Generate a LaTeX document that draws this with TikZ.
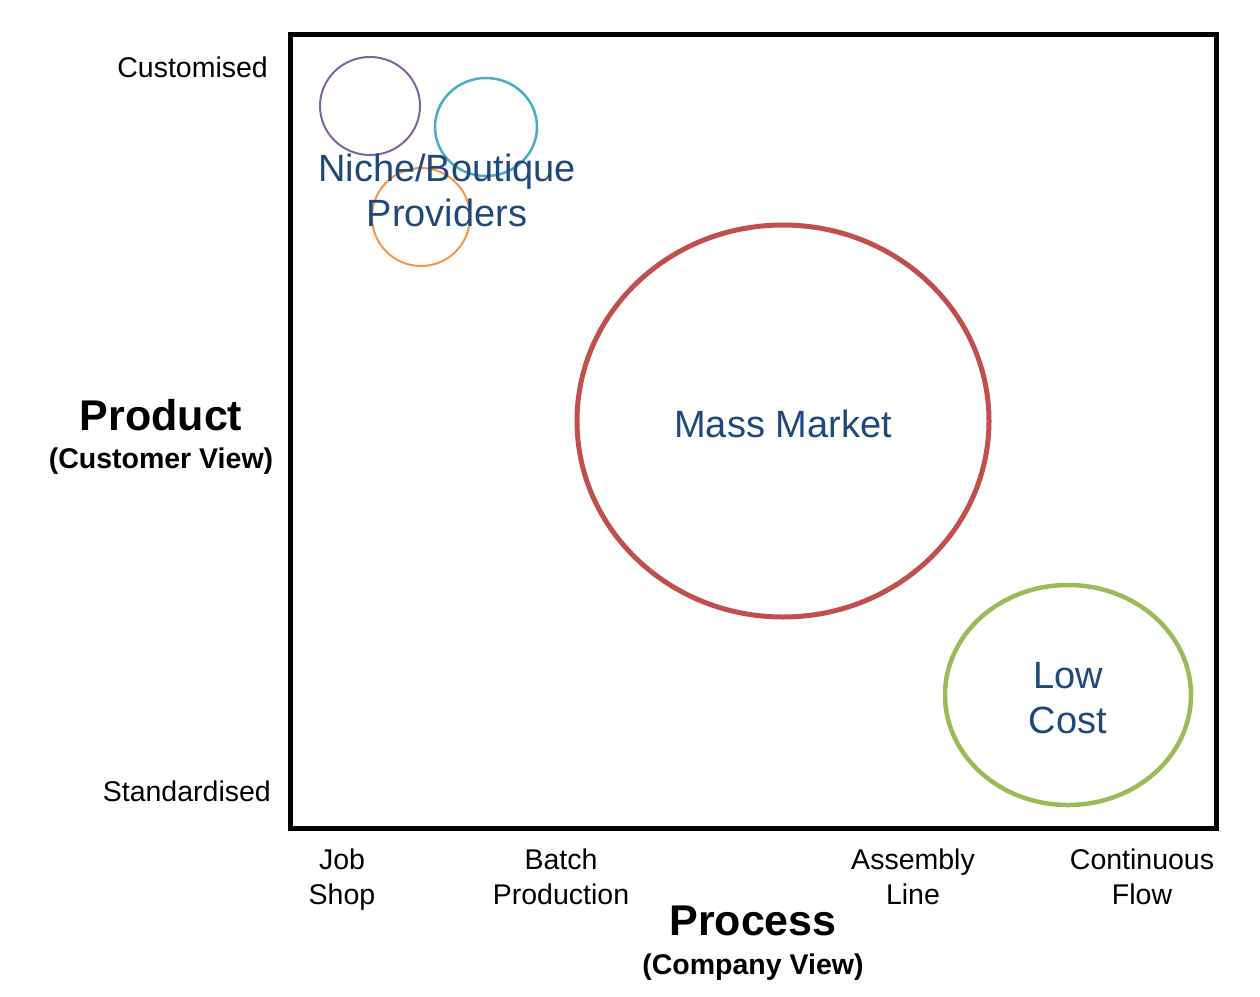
\documentclass[tikz,border=0pt]{standalone}
\usepackage{fontspec}
\setmainfont{Liberation Sans}
\usetikzlibrary{positioning, calc}
\definecolor{txtblue}{HTML}{1F497D}
\definecolor{cpurple}{HTML}{8064A2}
\definecolor{ccyan}{HTML}{4BACC6}
\definecolor{corange}{HTML}{F79646}
\definecolor{cred}{HTML}{C0504D}
\definecolor{cgreen}{HTML}{9BBB59}
\begin{document}
\begin{tikzpicture}[x=1pt, y=-1pt,
    bubble/.style={text=txtblue, align=center, inner sep=0pt, font=\fontsize{38}{45}\selectfont},
    axislbl/.style={align=center, inner sep=0pt, font=\fontsize{28.5}{35}\selectfont},
    bigttl/.style={inner sep=0pt, font=\bfseries\fontsize{43}{50}\selectfont},
    subttl/.style={inner sep=0pt, font=\bfseries\fontsize{28.5}{34}\selectfont}]
      \useasboundingbox (0,0) rectangle (1260,996);
      % frame
      \draw[line width=5pt] (290,34) rectangle (1216,828);
      % niche circles
      \draw[cpurple, line width=2pt] (370,106) ellipse (50 and 49);
      \draw[ccyan, line width=2.5pt] (486,127) ellipse (51 and 49);
      \draw[corange, line width=2pt] (421,217) ellipse (49 and 49);
      \draw[cred, line width=5pt] (783,421) ellipse (206 and 196);
      \draw[cgreen, line width=4.5pt] (1068,695) ellipse (123 and 110);
      \node[bubble] (niche) at (447,190) {Niche/Boutique\\Providers};
      \node[bubble] (mass) at (783,424) {Mass Market};
      \node[bubble] (lowcost) at (1068,698) {Low\\Cost};
      % vertical axis
      \node[axislbl, anchor=east] (custom) at (268,67) {Customised};
      \node[axislbl, anchor=east] (stand) at (271,791) {Standardised};
      \node[bigttl] (product) at (161,415) {Product};
      \node[subttl, below=17pt of product] (custview) {(Customer View)};
      % horizontal axis
      \node[axislbl] (job) at (342,880) {Job\\Shop};
      \node[axislbl] (batch) at (561,877) {Batch\\Production};
      \node[axislbl] (assembly) at (913,877) {Assembly\\Line};
      \node[axislbl] (contflow) at (1142,877) {Continuous\\Flow};
      \node[bigttl] (process) at (753,921) {Process};
      \node[subttl, below=17pt of process] (compview) {(Company View)};
    \end{tikzpicture}
\end{document}
